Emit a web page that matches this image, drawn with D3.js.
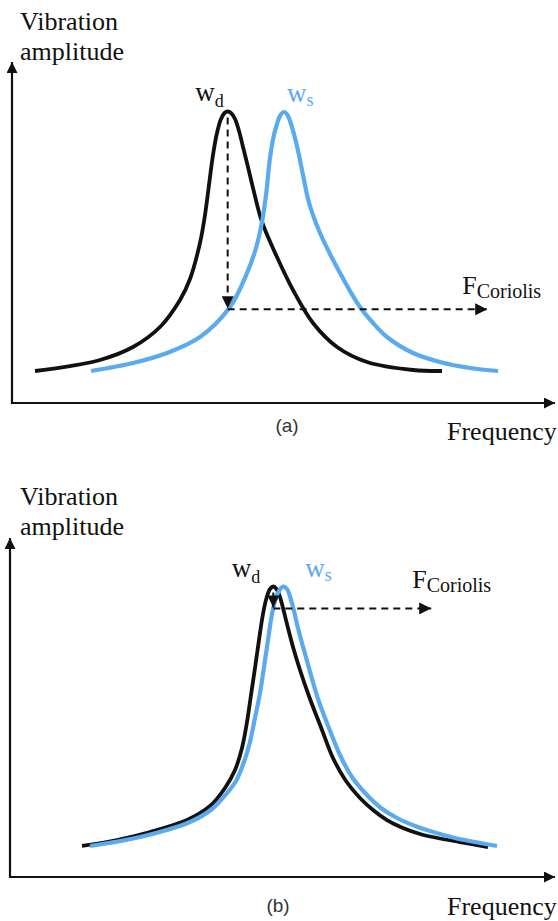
<!DOCTYPE html>
<html>
<head>
<meta charset="utf-8">
<title>Drive and sense resonance</title>
<script src="https://d3js.org/d3.v7.min.js"></script>
<style>
	body { margin: 0; background: #fff; }
	text { font-family: "Liberation Serif", "Times New Roman", "DejaVu Serif", serif; fill: #111; }
	text.tag { font-family: "Liberation Sans", Arial, sans-serif; fill: #333; }
</style>
</head>
<body>
<script>

// curves: [frequency, amplitude], both in arbitrary units 0-100
var driveA = [[4.26,9.41],[10.74,10.88],[16.30,12.65],[22.41,16.47],[27.41,22.35],[31.11,30.29],[32.96,36.47],
	[34.81,47.06],[35.74,55.29],[36.48,64.12],[37.22,72.94],[37.96,79.41],[38.70,83.53],[39.35,85.29],
	[39.94,85.74],[40.56,85.29],[41.30,83.53],[42.04,80.00],[42.78,75.29],[43.70,69.41],[44.63,63.24],
	[46.30,53.24],[49.07,42.94],[52.04,33.24],[55.74,23.53],[60.19,16.47],[65.74,12.06],[74.26,9.71],[79.63,9.41]]
var senseA = [[14.63,9.41],[22.41,11.76],[28.70,14.71],[34.81,19.41],[40.37,28.24],[43.52,38.24],[45.19,45.59],
	[46.30,53.24],[47.04,61.18],[47.78,72.06],[48.43,78.24],[49.07,82.06],[49.72,84.71],[50.37,85.59],
	[51.02,84.71],[51.67,82.06],[52.41,77.94],[53.06,73.53],[53.89,67.06],[54.87,59.71],[55.93,54.41],
	[57.04,50.00],[58.89,43.82],[60.74,38.24],[62.59,32.94],[64.44,28.24],[66.85,23.53],[69.44,19.41],
	[74.26,14.71],[79.26,12.06],[84.81,10.29],[90.00,9.41]]
var driveB = [[13.33,9.12],[19.81,10.88],[25.93,13.24],[32.78,16.76],[37.04,20.88],[39.81,26.18],[41.67,31.47],
	[42.96,37.94],[43.89,45.59],[44.63,53.53],[45.37,61.47],[46.11,69.71],[46.85,77.35],[47.50,82.06],
	[48.15,84.71],[48.76,85.44],[49.35,84.71],[50.00,82.35],[50.65,78.53],[51.48,73.24],[52.41,67.65],
	[53.70,60.88],[55.56,52.35],[57.78,43.24],[59.81,35.00],[62.22,28.24],[64.81,23.24],[67.22,19.71],
	[69.81,16.76],[72.78,14.41],[75.93,12.65],[79.63,11.32],[83.33,10.29],[88.52,8.82]]
var senseB = [[14.81,9.12],[24.07,11.76],[33.33,16.18],[37.41,20.00],[40.19,24.71],[41.85,28.24],[43.33,33.82],
	[44.44,39.71],[45.37,46.76],[46.30,54.12],[47.04,61.76],[47.78,69.71],[48.52,77.35],[49.17,81.76],
	[49.91,84.41],[50.61,85.44],[51.30,84.71],[51.94,82.06],[52.59,78.24],[53.33,73.24],[54.17,68.24],
	[55.37,61.47],[57.04,52.35],[59.07,43.82],[61.11,35.88],[63.33,29.41],[65.93,24.41],[68.70,20.29],
	[71.67,17.35],[75.00,15.00],[78.33,13.24],[82.41,11.47],[86.11,10.29],[90.19,9.12]]

var panelTags = ["(a)", "(b)"]
var yTitle = ["Vibration", "amplitude"]
var xTitle = "Frequency"
// frequency where the Coriolis arrow stops
var coriolisEnd = [88, 78]

var W = 558, H = 921
var blue = "#5aaaf0"
var serif = "'Liberation Serif', 'Times New Roman', 'DejaVu Serif', serif"

var svg = d3.select("body").append("svg")
	.attr("width", W)
	.attr("height", H)

// arrowheads
var defs = svg.append("defs")
function marker(id, size) {
	defs.append("marker")
		.attr("id", id)
		.attr("markerUnits", "userSpaceOnUse")
		.attr("viewBox", "0 0 10 10")
		.attr("refX", 10).attr("refY", 5)
		.attr("markerWidth", size).attr("markerHeight", size)
		.attr("orient", "auto")
		.append("path")
		.attr("d", "M0,0L10,5L0,10Z")
		.attr("fill", "#111")
}
marker("axisHead", 11)
marker("dashHead", 12)

// layout only, one entry per panel
var panels = [
	{drive: driveA, sense: senseA, tag: panelTags[0], end: coriolisEnd[0],
	 x0: 12, y0: 403, top: 62, titleY: 30, tagX: 287, tagY: 432, freqY: 440,
	 wd: [-4, -10], ws: [3, -10], f: [-25, -15]},
	{drive: driveB, sense: senseB, tag: panelTags[1], end: coriolisEnd[1],
	 x0: 10, y0: 877, top: 538, titleY: 505, tagX: 278, tagY: 912, freqY: 915,
	 wd: [-13, -10], ws: [22, -10], f: [-19, -20]}
]

// value of a curve at frequency f (straight between read points)
function valueAt(pts, f) {
	for (var i = 1; i < pts.length; i++) {
		if (pts[i][0] >= f) {
			var t = (f - pts[i-1][0]) / (pts[i][0] - pts[i-1][0])
			return pts[i-1][1] + t * (pts[i][1] - pts[i-1][1])
		}
	}
	return pts[pts.length-1][1]
}

panels.forEach(function(p) {
	var x = d3.scaleLinear().domain([0, 100]).range([p.x0, p.x0 + 540])
	var y = d3.scaleLinear().domain([0, 100]).range([p.y0, p.y0 - 340])
	var g = svg.append("g")

	// axes: plain lines with arrowheads, no ticks
	g.append("line")
		.attr("x1", p.x0).attr("y1", p.y0 + 1)
		.attr("x2", p.x0).attr("y2", p.top)
		.attr("stroke", "#111").attr("stroke-width", 2.2)
		.attr("marker-end", "url(#axisHead)")
	g.append("line")
		.attr("x1", p.x0 - 1).attr("y1", p.y0)
		.attr("x2", 555).attr("y2", p.y0)
		.attr("stroke", "#111").attr("stroke-width", 2.2)
		.attr("marker-end", "url(#axisHead)")

	g.selectAll(".ytitle")
		.data(yTitle)
		.enter().append("text")
		.attr("class", "ytitle")
		.attr("x", 20)
		.attr("y", function(d, i) { return p.titleY + i * 30 })
		.attr("font-size", 26)
		.style("font-family", serif)
		.text(function(d) { return d })

	g.append("text")
		.attr("x", 447).attr("y", p.freqY)
		.attr("font-size", 26)
		.style("font-family", serif)
		.text(xTitle)

	g.append("text")
		.attr("class", "tag")
		.attr("x", p.tagX).attr("y", p.tagY)
		.attr("text-anchor", "middle")
		.attr("font-size", 19)
		.text(p.tag)

	var line = d3.line()
		.x(function(d) { return x(d[0]) })
		.y(function(d) { return y(d[1]) })
		.curve(d3.curveCatmullRom.alpha(0.5))

	g.append("path")
		.datum(p.drive)
		.attr("d", line)
		.attr("fill", "none")
		.attr("stroke", "#111")
		.attr("stroke-width", 3.8)
	g.append("path")
		.datum(p.sense)
		.attr("d", line)
		.attr("fill", "none")
		.attr("stroke", blue)
		.attr("stroke-width", 4.2)

	// peaks
	var dPeak = p.drive.reduce(function(a, b) { return b[1] > a[1] ? b : a })
	var sPeak = p.sense.reduce(function(a, b) { return b[1] > a[1] ? b : a })
	var px = x(dPeak[0]), py = y(dPeak[1])
	var hitY = y(valueAt(p.sense, dPeak[0]))

	// drop from drive peak to sense curve, then Coriolis arrow
	g.append("line")
		.attr("x1", px).attr("y1", py + 6)
		.attr("x2", px).attr("y2", hitY - 1)
		.attr("stroke", "#111").attr("stroke-width", 2)
		.attr("stroke-dasharray", "7,5")
		.attr("marker-end", "url(#dashHead)")
	g.append("line")
		.attr("x1", px).attr("y1", hitY)
		.attr("x2", x(p.end)).attr("y2", hitY)
		.attr("stroke", "#111").attr("stroke-width", 2)
		.attr("stroke-dasharray", "7,5")
		.attr("marker-end", "url(#dashHead)")

	// labels
	var wd = g.append("text")
		.attr("x", px + p.wd[0]).attr("y", py + p.wd[1])
		.attr("text-anchor", "end")
		.attr("font-size", 27)
		.style("font-family", serif)
	wd.append("tspan").text("w")
	wd.append("tspan").attr("font-size", 18).attr("dy", 6).text("d")

	var ws = g.append("text")
		.attr("x", x(sPeak[0]) + p.ws[0]).attr("y", y(sPeak[1]) + p.ws[1])
		.attr("font-size", 27)
		.style("font-family", serif)
		.style("fill", blue)
	ws.append("tspan").text("w")
	ws.append("tspan").attr("font-size", 18).attr("dy", 4).text("s")

	var fc = g.append("text")
		.attr("x", x(p.end) + p.f[0]).attr("y", hitY + p.f[1])
		.attr("font-size", 26)
		.style("font-family", serif)
	fc.append("tspan").text("F")
	fc.append("tspan").attr("font-size", 20).attr("dy", 4).text("Coriolis")
})

</script>
</body>
</html>
